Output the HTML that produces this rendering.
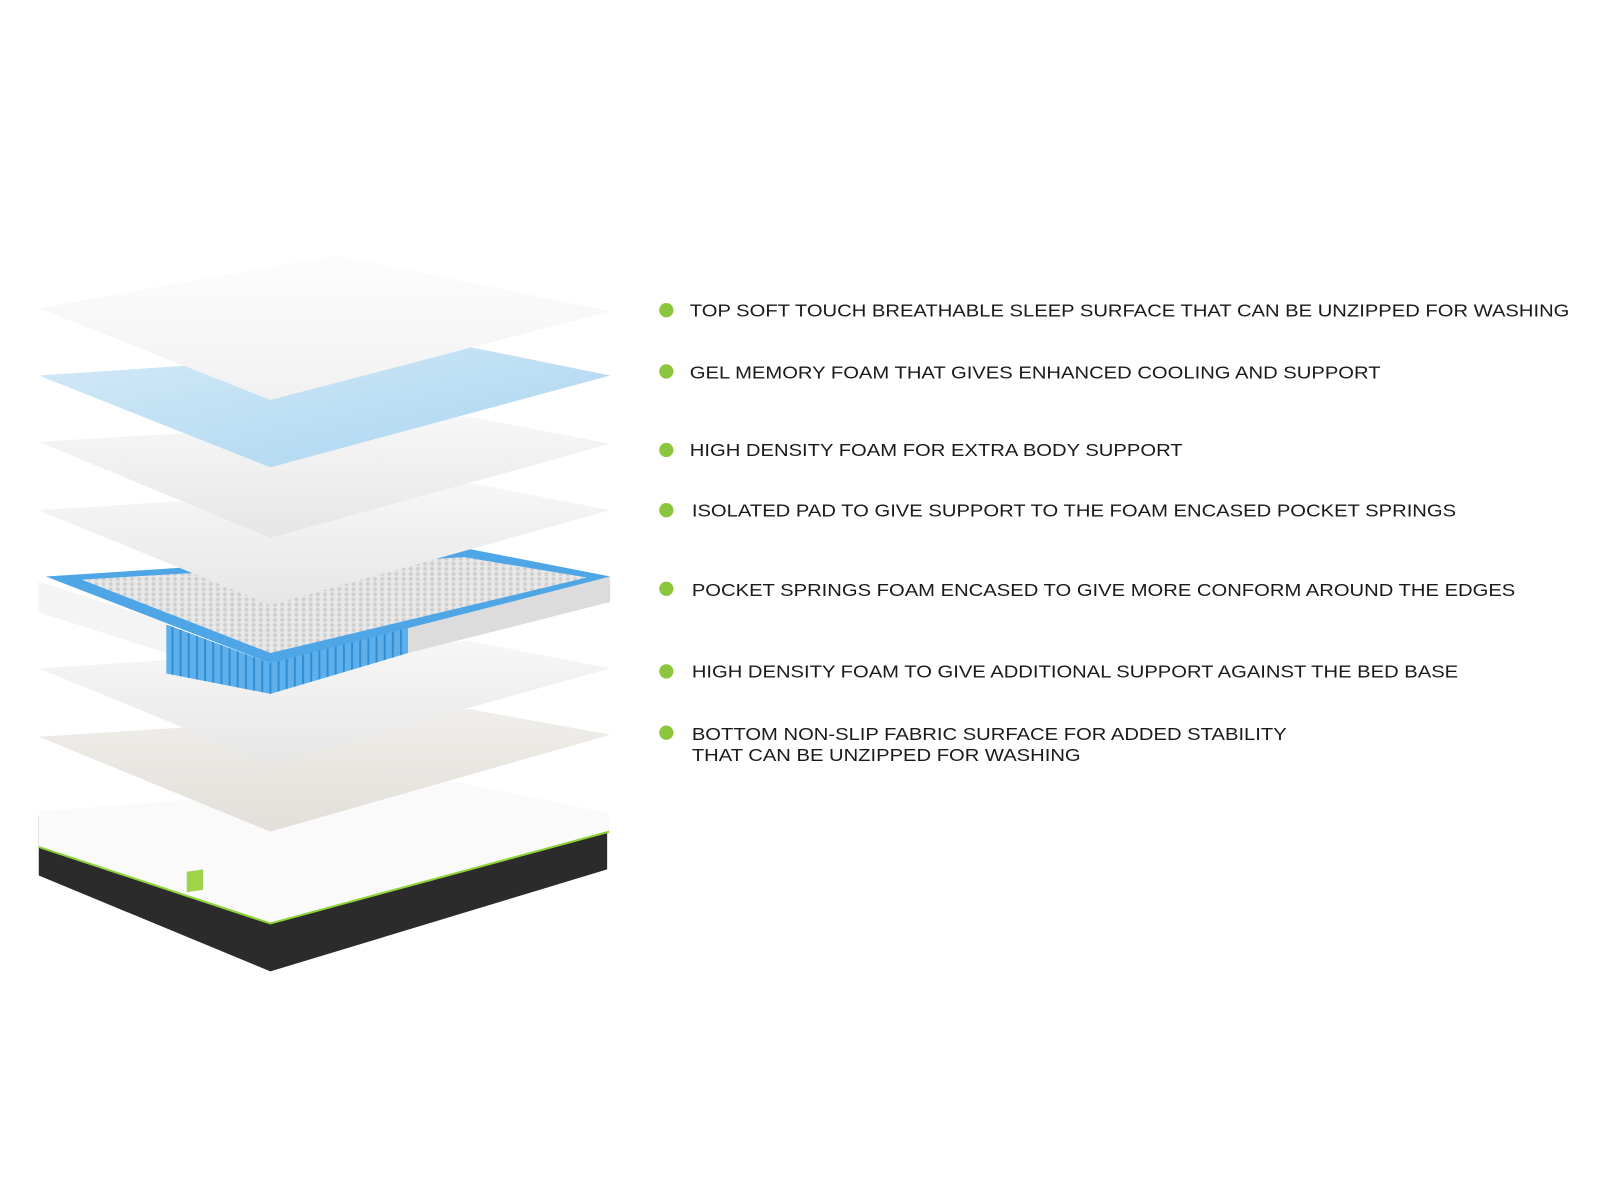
<!DOCTYPE html>
<html><head><meta charset="utf-8"><style>
html,body{margin:0;padding:0;background:#fff;}
svg{display:block}
text{font-family:"Liberation Sans",Arial,sans-serif;font-size:17.5px;fill:#1a1a1a;}
</style></head><body>
<svg width="1600" height="1200" viewBox="0 0 1568 1176" preserveAspectRatio="none" xmlns="http://www.w3.org/2000/svg">
<defs>
<linearGradient id="w" x1="0" y1="0" x2="0" y2="1"><stop offset="0" stop-color="#fdfdfd"/><stop offset="1" stop-color="#f1f1f1"/></linearGradient>
<linearGradient id="b" x1="0" y1="0" x2="1" y2="1"><stop offset="0" stop-color="#d4eaf8"/><stop offset="1" stop-color="#a9d4f0"/></linearGradient>
<linearGradient id="g" x1="0" y1="0" x2="0" y2="1"><stop offset="0" stop-color="#f7f7f7"/><stop offset="1" stop-color="#e6e6e6"/></linearGradient>
<linearGradient id="c" x1="0" y1="0" x2="0" y2="1"><stop offset="0" stop-color="#f0eeea"/><stop offset="1" stop-color="#e2dfda"/></linearGradient>
<pattern id="sp" width="8" height="60" patternUnits="userSpaceOnUse"><rect width="8" height="60" fill="#5fb0ea"/><rect x="0" width="2" height="60" fill="#2f8fd6"/></pattern>
<pattern id="dots" width="7" height="5" patternUnits="userSpaceOnUse"><rect width="7" height="5" fill="#e8e8e8"/><circle cx="3.5" cy="2.5" r="2" fill="#cfcfcf"/></pattern>
</defs>
<rect width="1568" height="1176" fill="#fff"/>

<!-- base mattress -->
<polygon points="38,800 38,858 265,952 595,852 595,800" fill="#2b2b2b"/>
<polygon points="38,795 440,765 597,797 597,815 265,905 38,830" fill="#fafafa"/>
<polyline points="38,830 265,905 597,815" fill="none" stroke="#8fd33a" stroke-width="2"/>
<rect x="183" y="880" width="16" height="20" fill="#9fd44a" transform="skewY(-8)" />
<!-- L7 -->
<polygon points="38,722 460,695 598,720 265,815" fill="url(#c)"/>
<!-- L6 -->
<polygon points="38,655 460,628 598,655 265,748" fill="url(#g)"/>
<!-- spring block -->
<polygon points="38,570 38,600 163,640 163,610" fill="#f4f4f4"/>
<polygon points="163,615 163,640 265,680 265,650" fill="#eee"/>
<polygon points="163,612 163,660 265,680 400,640 400,612 265,650" fill="url(#sp)"/>
<polygon points="400,612 400,640 598,590 598,565" fill="#dcdcdc"/>
<polygon points="45,565 460,538 598,565 265,650" fill="#4ea6e6"/>
<polygon points="80,568 455,546 575,566 265,640" fill="url(#dots)"/>
<!-- L4 -->
<polygon points="38,500 460,473 598,500 265,593" fill="url(#g)"/>
<!-- L3 -->
<polygon points="38,433 460,408 598,435 265,527" fill="url(#g)"/>
<!-- L2 blue -->
<polygon points="38,368 460,340 598,368 265,458" fill="url(#b)"/>
<!-- L1 -->
<polygon points="38,302 330,250 598,305 265,392" fill="url(#w)"/>

<!-- bullets -->
<g fill="#8cc63f">
<circle cx="653" cy="304" r="7"/><circle cx="653" cy="364" r="7"/><circle cx="653" cy="441" r="7"/>
<circle cx="653" cy="500" r="7"/><circle cx="653" cy="577" r="7"/><circle cx="653" cy="658" r="7"/><circle cx="653" cy="718" r="7"/>
</g>
<text x="676" y="310" textLength="862" lengthAdjust="spacingAndGlyphs">TOP SOFT TOUCH BREATHABLE SLEEP SURFACE THAT CAN BE UNZIPPED FOR WASHING</text>
<text x="676" y="371" textLength="677" lengthAdjust="spacingAndGlyphs">GEL MEMORY FOAM THAT GIVES ENHANCED COOLING AND SUPPORT</text>
<text x="676" y="447" textLength="483" lengthAdjust="spacingAndGlyphs">HIGH DENSITY FOAM FOR EXTRA BODY SUPPORT</text>
<text x="678" y="506" textLength="749" lengthAdjust="spacingAndGlyphs">ISOLATED PAD TO GIVE SUPPORT TO THE FOAM ENCASED POCKET SPRINGS</text>
<text x="678" y="584" textLength="807" lengthAdjust="spacingAndGlyphs">POCKET SPRINGS FOAM ENCASED TO GIVE MORE CONFORM AROUND THE EDGES</text>
<text x="678" y="664" textLength="751" lengthAdjust="spacingAndGlyphs">HIGH DENSITY FOAM TO GIVE ADDITIONAL SUPPORT AGAINST THE BED BASE</text>
<text x="678" y="725" textLength="583" lengthAdjust="spacingAndGlyphs">BOTTOM NON-SLIP FABRIC SURFACE FOR ADDED STABILITY</text>
<text x="678" y="746" textLength="381" lengthAdjust="spacingAndGlyphs">THAT CAN BE UNZIPPED FOR WASHING</text>
</svg>
</body></html>
